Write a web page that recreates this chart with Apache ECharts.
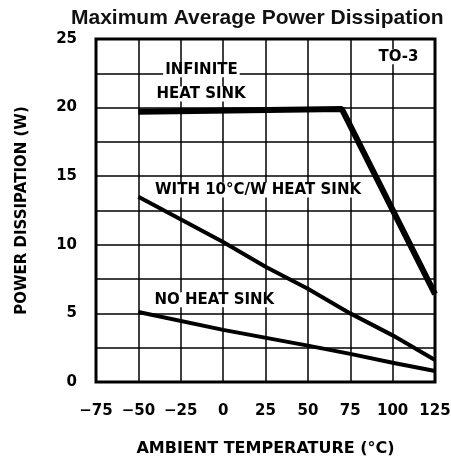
<!DOCTYPE html>
<html><head><meta charset="utf-8">
<script src="https://cdn.jsdelivr.net/npm/echarts@6/dist/echarts.min.js"></script>
<style>html,body{margin:0;padding:0;background:#fff;overflow:hidden}#c{width:451px;height:461px}</style>
</head><body><div id="c"></div>
<script>
var title = 'Maximum Average Power Dissipation';
var xName = 'AMBIENT TEMPERATURE (°C)';
var yName = 'POWER DISSIPATION (W)';
var infiniteSink = [[-50, 19.7], [70, 19.9], [125, 6.4]];
var tenCWSink = [[-50, 13.5], [0, 10.2], [25, 8.4], [50, 6.8], [75, 5.0], [100, 3.4], [125, 1.6]];
var noSink = [[-50, 5.1], [0, 3.8], [50, 2.65], [75, 2.05], [100, 1.4], [125, 0.8]];
var annotations = [
  {text: 'INFINITE', coord: [-12.8, 22.75]},
  {text: 'HEAT SINK', coord: [-13, 21.0]},
  {text: 'TO-3', coord: [103.5, 23.7]},
  {text: 'WITH 10°C/W HEAT SINK', coord: [20.6, 14.0]},
  {text: 'NO HEAT SINK', coord: [-5.2, 6.0]}
];
var font = '"DejaVu Sans", sans-serif';
var chart = echarts.init(document.getElementById('c'));
function lineSeries(data, w) {
  return {type: 'line', data: data, symbol: 'none', smooth: false,
    lineStyle: {color: '#000', width: w}, z: 5};
}
var s3 = lineSeries(noSink, 4);
s3.markPoint = {symbol: 'circle', symbolSize: 0, silent: true,
  label: {show: true, position: 'inside', color: '#000', fontFamily: font, fontWeight: 'bold', fontSize: 15,
    backgroundColor: '#fff', padding: [0, 2],
    formatter: function(p){return p.name;}},
  data: annotations.map(function(a){return {name: a.text, coord: a.coord};})};
chart.setOption({
  animation: false,
  title: {text: title, left: 66, top: 3,
    textStyle: {fontFamily: '"Liberation Sans", Arial, sans-serif', fontWeight: 'bold', fontSize: 21, color: '#111'}},
  grid: {left: 96, right: 16, top: 39, bottom: 79, containLabel: false, outerBoundsMode: 'none',
    show: true, borderColor: '#000', borderWidth: 3, backgroundColor: '#fff'},
  xAxis: {type: 'value', min: -75, max: 125, interval: 25,
    name: xName, nameLocation: 'middle', nameGap: 59,
    nameTextStyle: {fontFamily: font, fontWeight: 'bold', fontSize: 16, color: '#000'},
    axisLine: {show: false}, axisTick: {show: false},
    axisLabel: {fontFamily: font, fontWeight: 'bold', fontSize: 15, color: '#000', margin: 22,
      formatter: function(v){return v < 0 ? '\u2212' + (-v) : String(v);}},
    splitLine: {show: true, lineStyle: {color: '#000', width: 1.5}}},
  yAxis: {type: 'value', min: 0, max: 25, interval: 2.5,
    name: yName, nameLocation: 'middle', nameGap: 66, nameRotate: 90,
    nameTextStyle: {fontFamily: font, fontWeight: 'bold', fontSize: 15, color: '#000'},
    axisLabel: {fontFamily: font, fontWeight: 'bold', fontSize: 15, color: '#000', margin: 19,
      formatter: function(v){return v % 5 === 0 ? String(v) : '';}},
    axisLine: {show: false}, axisTick: {show: false},
    splitLine: {show: true, lineStyle: {color: '#000', width: 1.5}}},
  series: [lineSeries(infiniteSink, 6), lineSeries(tenCWSink, 4), s3]
});
</script></body></html>
